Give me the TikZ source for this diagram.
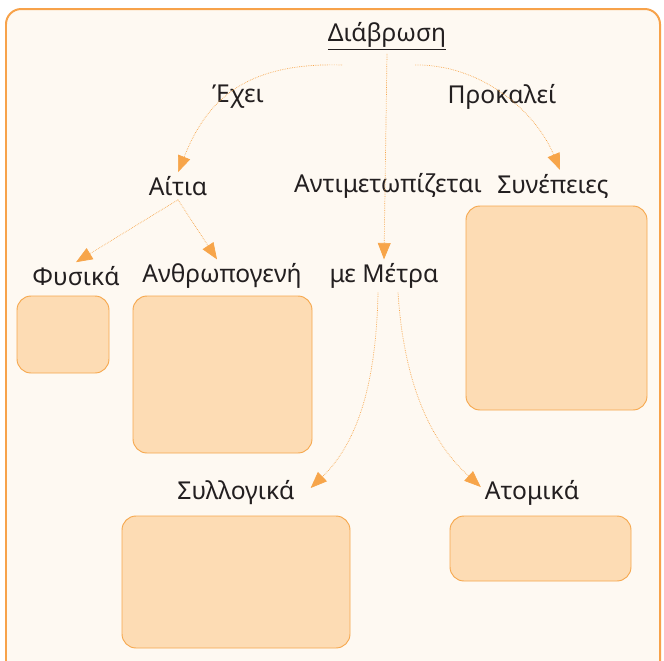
\documentclass[tikz,border=0pt]{standalone}
\usepackage{fontspec}
\setmainfont{Noto Sans}
\usepackage{tikz}
\usetikzlibrary{arrows.meta,calc}

\definecolor{paper}{HTML}{FEF9F2}
\definecolor{rim}{HTML}{F7A24A}
\definecolor{boxfill}{HTML}{FDDCB4}
\definecolor{boxline}{HTML}{F6A84E}
\definecolor{flowc}{HTML}{F7A54A}
\definecolor{ink}{HTML}{231F20}

\tikzset{
  lbl/.style={text=ink, font=\fontsize{21}{24}\selectfont},
  pane/.style={draw=boxline, fill=boxfill, line width=0.8pt, rounded corners=12pt},
  flow/.style={draw=flowc, line width=0.6pt, dash pattern=on 0.6pt off 0.9pt,
    -{Triangle[length=14pt,width=11pt]}}
}

\begin{document}
\begin{tikzpicture}[x=0.03cm, y=-0.03cm]
%\draw[help lines] (0,0) grid (664,660);
\useasboundingbox (0,0) rectangle (664,660);
\clip (0,0) rectangle (664,660);
\fill[white] (0,0) rectangle (664,660);
\draw[draw=rim, fill=paper, line width=1.7pt, rounded corners=13pt] (6,9) rectangle (660,720);

% empty answer boxes
\draw[pane] (17,296) rectangle (109,373);
\draw[pane] (133,296) rectangle (312,453);
\draw[pane] (466,206) rectangle (647,410);
\draw[pane] (122,516) rectangle (350,648);
\draw[pane] (450,516) rectangle (631,581);

\node (dia) [lbl] at (387,36) {\underline{Διάβρωση}};
\node (exei) [lbl] at (238,97) {Έχει};
\node (prok) [lbl] at (502,97) {Προκαλεί};
\node (aitia) [lbl] at (178,186) {Αίτια};
\node (antim) [lbl] at (388,186) {Αντιμετωπίζεται};
\node (syn) [lbl] at (553,186) {Συνέπειες};
\node (fys) [lbl] at (76,276) {Φυσικά};
\node (anth) [lbl] at (222,276) {Ανθρωπογενή};
\node (metra) [lbl] at (384,276) {με Μέτρα};
\node (syl) [lbl] at (236,493) {Συλλογικά};
\node (atom) [lbl] at (532,493) {Ατομικά};

\coordinate (dia-l) at (342,65);
\coordinate (dia-r) at (415,65);

\draw[flow] (dia-l) .. controls (240,62) and (205,105) .. (aitia.north);
\draw[flow] (dia-r) .. controls (480,64) and (535,110) .. ($(syn.north)+(7,0)$);
\draw[flow] (dia.south) -- (metra.north);
\draw[flow] (aitia.south) -- (fys.north);
\draw[flow] (aitia.south) -- ($(anth.north)+(-5,0)$);
\draw[flow] ($(metra.south)+(-6,0)$) .. controls (376,400) and (350,450) .. ($(syl.east)+(12,-5)$);
\draw[flow] ($(metra.south)+(14,0)$) .. controls (405,400) and (440,450) .. ($(atom.west)+(0,-6)$);
\end{tikzpicture}
\end{document}
